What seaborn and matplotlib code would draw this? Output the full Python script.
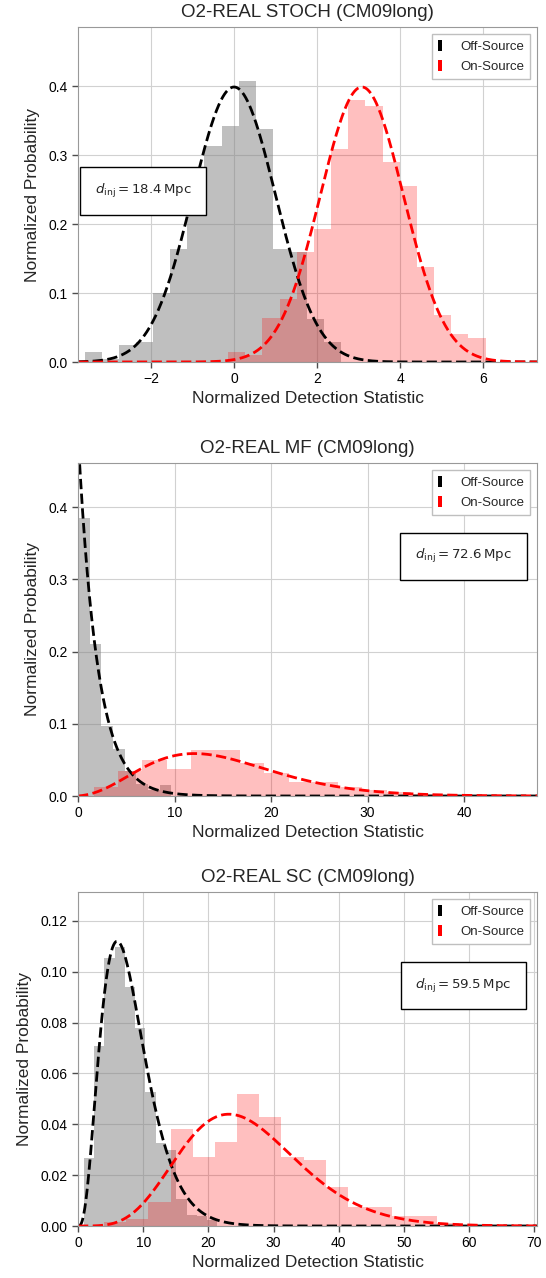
import math
import numpy as np
import pandas as pd
import matplotlib
matplotlib.use("Agg")
import matplotlib.pyplot as plt
from matplotlib.patches import Patch
import seaborn as sns

# ---------------- data ----------------
titles = ["O2-REAL STOCH (CM09long)", "O2-REAL MF (CM09long)", "O2-REAL SC (CM09long)"]
distances = ["18.4", "72.6", "59.5"]
legend_labels = ["Off-Source", "On-Source"]

# top panel (STOCH)
stoch_off_edges = [-3.60, -3.19, -2.78, -2.36, -1.95, -1.54, -1.13, -0.72, -0.30, 0.11, 0.52, 0.93, 1.34, 1.76, 2.17, 2.58]
stoch_off_heights = [0.015, 0.005, 0.025, 0.029, 0.100, 0.164, 0.260, 0.314, 0.343, 0.407, 0.338, 0.164, 0.160, 0.063, 0.029]
stoch_on_edges = [-0.145, 0.269, 0.682, 1.096, 1.51, 1.924, 2.337, 2.751, 3.165, 3.578, 3.992, 4.406, 4.82, 5.233, 5.647, 6.06]
stoch_on_heights = [0.0145, 0.010, 0.064, 0.092, 0.160, 0.193, 0.309, 0.380, 0.372, 0.290, 0.256, 0.138, 0.068, 0.040, 0.035]
stoch_off_fit = [0.0, 1.0]      # normal: mean, sigma
stoch_on_fit = [3.08, 1.0]

# middle panel (MF)
mf_off_edges = [0.0, 1.21, 2.42, 3.63, 4.84, 6.05, 7.26, 8.47, 9.68]
mf_off_heights = [0.385, 0.210, 0.097, 0.0645, 0.035, 0.017, 0.008, 0.015]
mf_on_edges = [1.61, 4.14, 6.67, 9.2, 11.73, 14.26, 16.79, 19.32, 21.85, 24.38, 26.91, 29.44, 31.97, 34.5, 37.03, 39.56]
mf_on_heights = [0.013, 0.034, 0.050, 0.038, 0.063, 0.063, 0.045, 0.032, 0.020, 0.020, 0.013, 0.008, 0.005, 0.003, 0.001]
mf_off_fit = [2, 0.0]           # chi2: dof, non-centrality
mf_on_fit = [4, 11.0]

# bottom panel (SC)
sc_off_edges = [0.9, 2.475, 4.05, 5.625, 7.2, 8.775, 10.35, 11.925, 13.5, 15.075, 16.65, 18.225, 19.8, 21.375]
sc_off_heights = [0.0267, 0.0708, 0.1055, 0.1098, 0.094, 0.078, 0.0529, 0.0326, 0.030, 0.0105, 0.0045, 0.004, 0.0025]
sc_on_edges = [4.0, 7.4, 10.8, 14.2, 17.6, 21.0, 24.4, 27.8, 31.2, 34.6, 38.0, 41.4, 44.8, 48.2, 51.6, 55.0, 58.4]
sc_on_heights = [0.0015, 0.0029, 0.0094, 0.038, 0.027, 0.033, 0.0518, 0.0427, 0.027, 0.026, 0.0152, 0.0075, 0.0075, 0.0038, 0.0038, 0.001]
sc_off_fit = [8, 0.0]
sc_on_fit = [8, 18.0]

x_limits = [(-3.76, 7.30), (0, 47.55), (0, 70.4)]
y_limits = [(0, 0.486), (0, 0.461), (0, 0.1314)]
x_ticks = [[-2, 0, 2, 4, 6], [0, 10, 20, 30, 40], [0, 10, 20, 30, 40, 50, 60, 70]]
y_ticks = [[0.0, 0.1, 0.2, 0.3, 0.4], [0.0, 0.1, 0.2, 0.3, 0.4], [0.00, 0.02, 0.04, 0.06, 0.08, 0.10, 0.12]]
y_tick_fmt = ["{:.1f}", "{:.1f}", "{:.2f}"]


# ---------------- model curves ----------------
def normal_pdf(x, mu, sigma):
    return np.exp(-0.5 * ((x - mu) / sigma) ** 2) / (sigma * math.sqrt(2 * math.pi))


def chi2_pdf(x, k):
    x = np.asarray(x, dtype=float)
    xs = np.clip(x, 1e-12, None)
    return np.exp((k / 2 - 1) * np.log(xs) - xs / 2 - (k / 2) * math.log(2) - math.lgamma(k / 2))


def ncx2_pdf(x, k, lam):
    if lam <= 0:
        return chi2_pdf(x, k)
    out = np.zeros_like(np.asarray(x, dtype=float))
    for j in range(200):
        w = math.exp(-lam / 2 + j * math.log(lam / 2) - math.lgamma(j + 1))
        out += w * chi2_pdf(x, k + 2 * j)
    return out


# ---------------- style ----------------
sns.set_style("whitegrid", rc={
    "axes.edgecolor": "0.6",
    "grid.color": "0.82",
    "grid.linewidth": 1.0,
    "axes.linewidth": 1.0,
    "xtick.bottom": True,
    "ytick.left": True,
    "xtick.color": "0.3",
    "ytick.color": "0.3",
})
plt.rcParams["font.family"] = ["Liberation Sans", "DejaVu Sans"]
plt.rcParams["mathtext.fontset"] = "dejavusans"
plt.rcParams["axes.unicode_minus"] = True

fig = plt.figure(figsize=(5.46, 12.78), dpi=100)
left, width = 78 / 546, 459 / 546
boxes = [(1 - 362 / 1278, 335 / 1278), (1 - 796 / 1278, 333 / 1278), (1 - 1226 / 1278, 334 / 1278)]

panels = [
    (stoch_off_edges, stoch_off_heights, stoch_on_edges, stoch_on_heights, "normal", stoch_off_fit, stoch_on_fit),
    (mf_off_edges, mf_off_heights, mf_on_edges, mf_on_heights, "chi2", mf_off_fit, mf_on_fit),
    (sc_off_edges, sc_off_heights, sc_on_edges, sc_on_heights, "chi2", sc_off_fit, sc_on_fit),
]
text_pos = [(0.142, 0.51), (0.840, 0.72), (0.840, 0.72)]

for i, (oe, oh, ne, nh, kind, off_fit, on_fit) in enumerate(panels):
    b, h = boxes[i]
    ax = fig.add_axes([left, b, width, h])

    oe_a, ne_a = np.array(oe), np.array(ne)
    off_df = pd.DataFrame({"x": (oe_a[:-1] + oe_a[1:]) / 2, "w": oh})
    on_df = pd.DataFrame({"x": (ne_a[:-1] + ne_a[1:]) / 2, "w": nh})
    sns.histplot(data=off_df, x="x", weights="w", bins=oe, stat="count", ax=ax,
                 color="gray", alpha=0.5, linewidth=0, edgecolor="none")
    sns.histplot(data=on_df, x="x", weights="w", bins=ne, stat="count", ax=ax,
                 color="red", alpha=0.25, linewidth=0, edgecolor="none")

    xg = np.linspace(max(x_limits[i][0], 1e-6) if kind == "chi2" else x_limits[i][0], x_limits[i][1], 800)
    if kind == "normal":
        y_off = normal_pdf(xg, *off_fit)
        y_on = normal_pdf(xg, *on_fit)
    else:
        y_off = ncx2_pdf(xg, *off_fit)
        y_on = ncx2_pdf(xg, *on_fit)
    sns.lineplot(x=xg, y=y_off, ax=ax, color="black", linestyle="--", linewidth=2, sort=False, estimator=None)
    sns.lineplot(x=xg, y=y_on, ax=ax, color="red", linestyle="--", linewidth=2, sort=False, estimator=None)

    ax.set_xlim(*x_limits[i])
    ax.set_ylim(*y_limits[i])
    ax.set_xticks(x_ticks[i])
    ax.set_yticks(y_ticks[i])
    ax.set_yticklabels([y_tick_fmt[i].format(v) for v in y_ticks[i]])
    ax.tick_params(axis="both", labelsize=10, length=4, width=1, direction="out", labelcolor="black")
    ax.set_axisbelow(True)
    ax.set_title(titles[i], fontsize=13.5, pad=7)
    ax.set_xlabel("Normalized Detection Statistic", fontsize=12.5, labelpad=3)
    ax.set_ylabel("Normalized Probability", fontsize=12.5, labelpad=6)

    handles = [Patch(facecolor="black", edgecolor="none"), Patch(facecolor="red", edgecolor="none")]
    leg = ax.legend(handles, legend_labels, loc="upper right", fontsize=9.5, handlelength=0.3,
                    handleheight=1.0, handletextpad=1.4, fancybox=False, framealpha=1.0,
                    edgecolor="0.75", borderpad=0.45, borderaxespad=0.5)
    leg.get_frame().set_linewidth(1.0)

    ax.text(text_pos[i][0], text_pos[i][1], r"$d_{\rm inj} = %s\,{\rm Mpc}$" % distances[i],
            transform=ax.transAxes, ha="center", va="center", fontsize=9.6, color="0.15",
            bbox=dict(boxstyle="square,pad=1.1", facecolor="white", edgecolor="black", linewidth=1.0))

fig.savefig("out.png", dpi=100)
